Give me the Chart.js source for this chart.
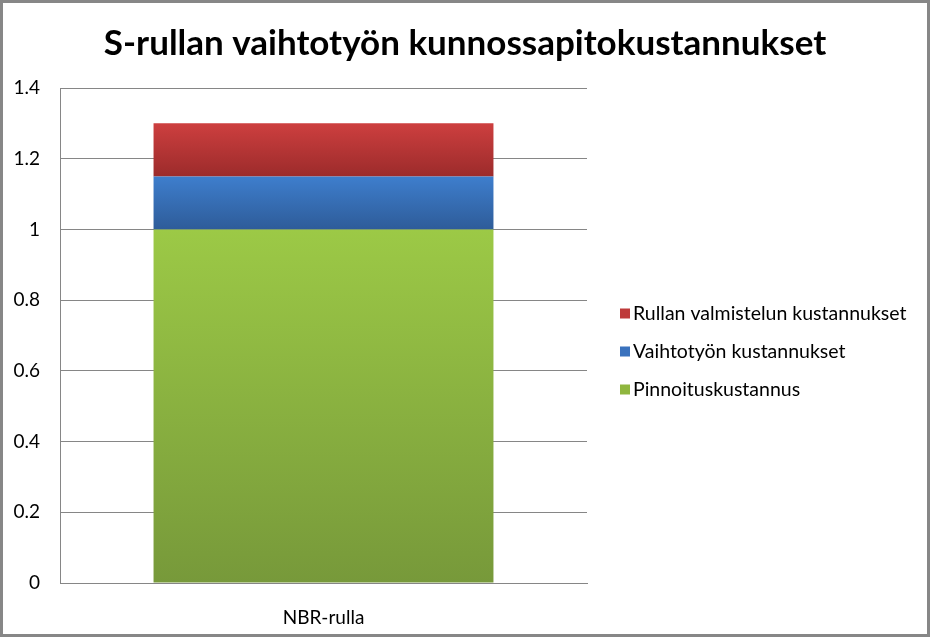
<!DOCTYPE html>
<html>
<head>
<meta charset="utf-8">
<script src="https://cdn.jsdelivr.net/npm/chart.js@4"></script>
<style>
  body { margin: 0; background: #fff; }
</style>
</head>
<body>
<canvas id="myChart" width="930" height="637"></canvas>
<script>
//DATA
var categories = ['NBR-rulla'];
var coating = [1.0];      // Pinnoituskustannus
var changeWork = [0.15];  // Vaihtotyön kustannukset
var prep = [0.15];        // Rullan valmistelun kustannukset
var yTickValues = [0, 0.2, 0.4, 0.6, 0.8, 1, 1.2, 1.4];
var yTickLabels = ['0', '0.2', '0.4', '0.6', '0.8', '1', '1.2', '1.4'];
var chartTitle = 'S-rullan vaihtotyön kunnossapitokustannukset';

var fontName = 'Lato, "Open Sans", sans-serif';

//vertical gradient for one stacked segment
function segGradient(ctx, below, vals, top, bottom) {
  var chart = ctx.chart;
  var y = chart.scales.y;
  if (!y || !chart.chartArea) return top;
  var i = ctx.dataIndex || 0;
  var base = 0;
  below.forEach(function(arr){ base += arr[i]; });
  var y0 = y.getPixelForValue(base + vals[i]);
  var y1 = y.getPixelForValue(base);
  var g = chart.ctx.createLinearGradient(0, y0, 0, y1);
  g.addColorStop(0, top);
  g.addColorStop(1, bottom);
  return g;
}

//frame round the whole picture + title centred on the canvas
var framePlugin = {
  id: 'frame',
  afterDraw: function(chart) {
    var c = chart.ctx;
    c.save();
    c.strokeStyle = '#878787';
    c.lineWidth = 3;
    c.strokeRect(1.5, 1.5, chart.width - 3, chart.height - 3);
    c.font = 'bold 35px ' + fontName;
    c.fillStyle = '#000';
    c.textAlign = 'center';
    c.textBaseline = 'middle';
    c.fillText(chartTitle, chart.width / 2, 44);
    c.restore();
  }
};

//legend on the right, top series first
var sideLegend = {
  id: 'sideLegend',
  afterDraw: function(chart) {
    var c = chart.ctx, area = chart.chartArea;
    var sets = chart.data.datasets.slice().reverse();
    var rowH = 38;
    var x = area.right + 33;
    var y = (area.top + area.bottom) / 2 + 16 - rowH * (sets.length - 1) / 2;
    c.save();
    c.font = '19.5px ' + fontName;
    c.textBaseline = 'middle';
    sets.forEach(function(ds, i) {
      var yy = y + i * rowH;
      c.fillStyle = ds.solid;
      c.fillRect(x, yy - 5, 10, 10);
      c.fillStyle = '#000';
      c.fillText(ds.label, x + 13, yy);
    });
    c.restore();
  }
};

var ctx = document.getElementById('myChart').getContext('2d');
var myChart = new Chart(ctx, {
  type: 'bar',
  data: {
    labels: categories,
    datasets: [{
      label: 'Pinnoituskustannus',
      data: coating,
      solid: '#8fb63e',
      backgroundColor: function(c) { return segGradient(c, [], coating, '#9cc946', '#77993a'); }
    }, {
      label: 'Vaihtotyön kustannukset',
      data: changeWork,
      solid: '#3a72bd',
      backgroundColor: function(c) { return segGradient(c, [coating], changeWork, '#3e7ecd', '#2e5c99'); }
    }, {
      label: 'Rullan valmistelun kustannukset',
      data: prep,
      solid: '#be3a3a',
      backgroundColor: function(c) { return segGradient(c, [coating, changeWork], prep, '#cd3f3f', '#9c2b2b'); }
    }]
  },
  options: {
    responsive: false,
    animation: false,
    layout: { padding: { left: 0, right: 343, top: 88, bottom: 0 } },
    datasets: {
      bar: { barPercentage: 1, categoryPercentage: 0.645, borderWidth: 0 }
    },
    plugins: {
      title: { display: false },
      legend: { display: false },
      tooltip: { enabled: false }
    },
    scales: {
      x: {
        stacked: true,
        afterFit: function(axis) { axis.height = 54; },
        grid: { display: false },
        border: { display: true, color: '#868686', width: 1 },
        ticks: { color: '#000', font: { family: fontName, size: 19 }, padding: 15 }
      },
      y: {
        stacked: true,
        min: 0,
        max: 1.4,
        afterFit: function(axis) { axis.width = 60; },
        afterBuildTicks: function(axis) {
          axis.ticks = yTickValues.map(function(v) { return { value: v }; });
        },
        grid: { color: '#868686', drawTicks: false },
        border: { display: true, color: '#868686', width: 1 },
        ticks: {
          color: '#000',
          font: { family: fontName, size: 19 },
          padding: 20,
          callback: function(v, i) { return yTickLabels[i]; }
        }
      }
    }
  },
  plugins: [framePlugin, sideLegend]
});
</script>
</body>
</html>
